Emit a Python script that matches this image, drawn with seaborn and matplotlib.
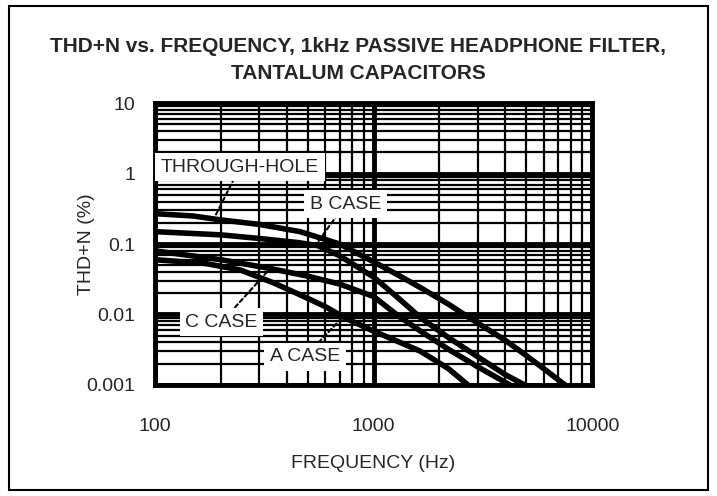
import numpy as np
import pandas as pd
import matplotlib
matplotlib.use("Agg")
import matplotlib.pyplot as plt
from matplotlib.patches import Rectangle
import seaborn as sns

# curves (frequency in Hz, THD+N in %)
th_freq = [100, 150, 200, 300, 461, 700, 1000, 1300, 1640, 2200, 2850, 4000, 5000, 6000, 7500]
th_thd = [0.27, 0.25, 0.22, 0.19, 0.15, 0.10, 0.056, 0.036, 0.024, 0.014, 0.0083, 0.0043, 0.0026, 0.0017, 0.001]

b_freq = [100, 200, 300, 450, 556, 700, 1000, 1300, 1640, 2200, 3000, 4000, 4900]
b_thd = [0.15, 0.135, 0.12, 0.105, 0.095, 0.068, 0.034, 0.017, 0.009, 0.0047, 0.0025, 0.0014, 0.001]

c_freq = [100, 200, 336, 500, 700, 1000, 1300, 1640, 2200, 3000, 4200]
c_thd = [0.08, 0.06, 0.045, 0.035, 0.027, 0.018, 0.0095, 0.0058, 0.0032, 0.0018, 0.001]

a_freq = [100, 170, 245, 350, 461, 600, 742, 1000, 1300, 1640, 2200, 2700]
a_thd = [0.06, 0.053, 0.043, 0.028, 0.019, 0.013, 0.0089, 0.0058, 0.0041, 0.003, 0.0017, 0.001]

x_ticks = [100, 1000, 10000]
x_ticklabels = ["100", "1000", "10000"]
y_ticks = [0.001, 0.01, 0.1, 1, 10]
y_ticklabels = ["0.001", "0.01", "0.1", "1", "10"]

rows = []
for name, fr, vals in [("THROUGH-HOLE", th_freq, th_thd), ("B CASE", b_freq, b_thd),
                       ("C CASE", c_freq, c_thd), ("A CASE", a_freq, a_thd)]:
    for f, v in zip(fr, vals):
        rows.append({"series": name, "freq": f, "thd": v})
df = pd.DataFrame(rows)

sns.set_style("white")
plt.rcParams["font.family"] = ["Liberation Sans Narrow", "Liberation Sans", "DejaVu Sans"]
plt.rcParams["font.stretch"] = "condensed"

fig = plt.figure(figsize=(7.17, 4.96), dpi=100)
ax = fig.add_axes([0.216, 0.224, 0.610, 0.568])

ax.set_xscale("log")
ax.set_yscale("log")
ax.set_xlim(100, 10000)
ax.set_ylim(0.001, 10)

# grid: heavy decades, lighter minors
ax.grid(which="major", color="black", linewidth=3.5)
ax.grid(which="minor", color="black", linewidth=1.6)
ax.set_axisbelow(True)

sns.lineplot(data=df, x="freq", y="thd", hue="series",
             palette={"THROUGH-HOLE": "black", "B CASE": "black",
                      "C CASE": "black", "A CASE": "black"},
             linewidth=4, legend=False, ax=ax, zorder=3)
for ln in ax.get_lines():
    ln.set_solid_joinstyle("round")
    ln.set_solid_capstyle("round")

for s in ax.spines.values():
    s.set_linewidth(3.5)
    s.set_color("black")

ax.set_xticks(x_ticks)
ax.set_xticklabels(x_ticklabels)
ax.set_yticks(y_ticks)
ax.set_yticklabels(y_ticklabels)
ax.tick_params(which="both", length=0)
ax.tick_params(axis="x", pad=24, labelsize=14)
ax.tick_params(axis="y", pad=14, labelsize=14)

ax.set_xlabel("FREQUENCY (Hz)", fontsize=14, labelpad=14)
ax.set_ylabel("THD+N (%)", fontsize=14)
ax.yaxis.set_label_coords(-0.137, 0.5)

fig.suptitle("THD+N vs. FREQUENCY, 1kHz PASSIVE HEADPHONE FILTER,\nTANTALUM CAPACITORS",
             fontsize=15, fontweight="bold", y=0.925, linespacing=1.5)

# labels with white boxes and dashed pointers
labels = [("THROUGH-HOLE", (245, 1.24), (190, 0.26)),
          ("B CASE", (742, 0.37), (560, 0.11)),
          ("C CASE", (202, 0.0078), (330, 0.042)),
          ("A CASE", (485, 0.0025), (730, 0.0095))]
for text, pos, tip in labels:
    ax.annotate("", xy=tip, xytext=pos, zorder=4,
                arrowprops=dict(arrowstyle="-", color="black", linestyle=(0, (2, 1.5)),
                                linewidth=1.5, shrinkA=9, shrinkB=0))
    ax.text(pos[0], pos[1], text, ha="center", va="center", fontsize=14, zorder=5,
            bbox=dict(facecolor="white", edgecolor="none", pad=4))

fig.patches.append(Rectangle((0.012, 0.012), 0.976, 0.976, transform=fig.transFigure,
                             fill=False, edgecolor="black", linewidth=1.5))

fig.savefig("out.png", dpi=100)
